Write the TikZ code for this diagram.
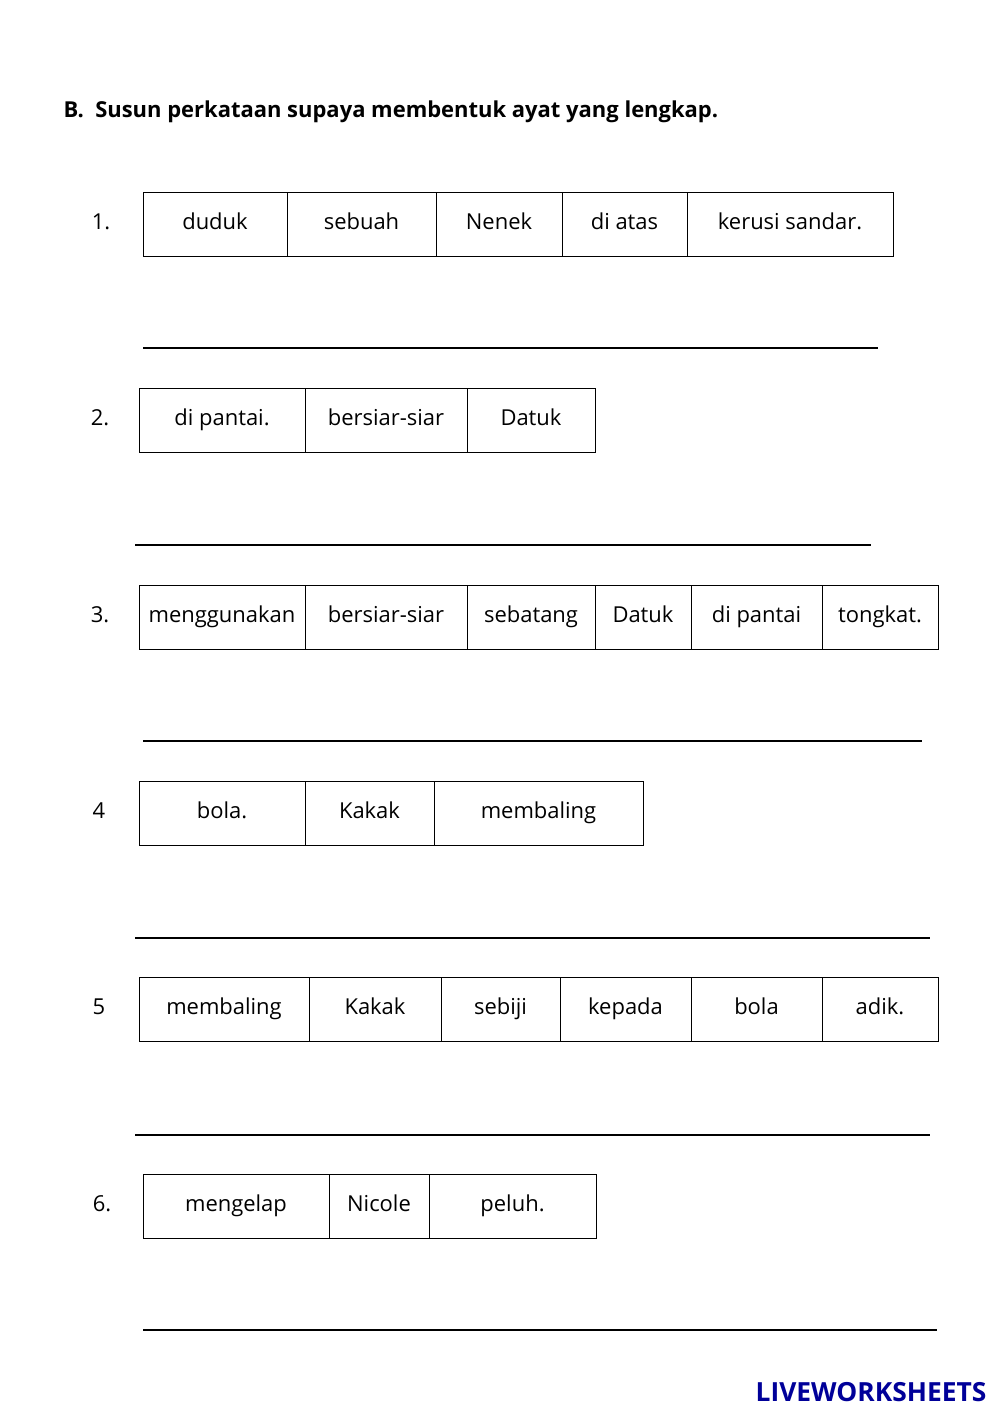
\documentclass[tikz,border=0pt]{standalone}
\usepackage{fontspec}
\setmainfont{Open Sans}
\usetikzlibrary{positioning}

\tikzset{
  wordbox/.style={draw, inner sep=0pt, minimum height=1.28cm, text height=1.55ex, text depth=0.45ex, font=\fontsize{12.5}{14}\selectfont},
  numlabel/.style={font=\fontsize{12.5}{14}\selectfont, text height=1.55ex, text depth=0.45ex},
  answerline/.style={line width=1.2pt}
}

\begin{document}
\begin{tikzpicture}

        \useasboundingbox (0,0) rectangle (20,-28.26);

        % Title
        \node[anchor=west, font=\bfseries\fontsize{12.5}{15}\selectfont] (title) at (1.15,-2.24) {B.\ \ Susun perkataan supaya membentuk ayat yang lengkap.};

        % ------------------ Soalan 1 ------------------
        \node[numlabel] (n1) at (2.02,-4.48) {1.};
        \node[wordbox, minimum width=2.88cm] (q1a) at (4.30,-4.48) {duduk};
        \node[wordbox, minimum width=2.98cm] (q1b) at (7.23,-4.48) {sebuah};
        \node[wordbox, minimum width=2.52cm] (q1c) at (9.98,-4.48) {Nenek};
        \node[wordbox, minimum width=2.50cm] (q1d) at (12.49,-4.48) {di atas};
        \node[wordbox, minimum width=4.12cm] (q1e) at (15.80,-4.48) {kerusi sandar.};
        \draw[answerline] (2.86,-6.96) -- (17.56,-6.96);

        % ------------------ Soalan 2 ------------------
        \node[numlabel] (n2) at (2.0,-8.41) {2.};
        \node[wordbox, minimum width=3.32cm] (q2a) at (4.44,-8.41) {di pantai.};
        \node[wordbox, minimum width=3.24cm] (q2b) at (7.72,-8.41) {bersiar-siar};
        \node[wordbox, minimum width=2.56cm] (q2c) at (10.62,-8.41) {Datuk};
        \draw[answerline] (2.70,-10.90) -- (17.42,-10.90);

        % ------------------ Soalan 3 ------------------
        \node[numlabel] (n3) at (2.0,-12.34) {3.};
        \node[wordbox, minimum width=3.32cm] (q3a) at (4.44,-12.34) {menggunakan};
        \node[wordbox, minimum width=3.24cm] (q3b) at (7.72,-12.34) {bersiar-siar};
        \node[wordbox, minimum width=2.56cm] (q3c) at (10.62,-12.34) {sebatang};
        \node[wordbox, minimum width=1.92cm] (q3d) at (12.86,-12.34) {Datuk};
        \node[wordbox, minimum width=2.62cm] (q3e) at (15.13,-12.34) {di pantai};
        \node[wordbox, minimum width=2.32cm] (q3f) at (17.60,-12.34) {tongkat.};
        \draw[answerline] (2.86,-14.82) -- (18.44,-14.82);

        % ------------------ Soalan 4 ------------------
        \node[numlabel] (n4) at (1.98,-16.26) {4};
        \node[wordbox, minimum width=3.32cm] (q4a) at (4.44,-16.26) {bola.};
        \node[wordbox, minimum width=2.58cm] (q4b) at (7.39,-16.26) {Kakak};
        \node[wordbox, minimum width=4.18cm] (q4c) at (10.77,-16.26) {membaling};
        \draw[answerline] (2.70,-18.76) -- (18.60,-18.76);

        % ------------------ Soalan 5 ------------------
        \node[numlabel] (n5) at (1.98,-20.19) {5};
        \node[wordbox, minimum width=3.40cm] (q5a) at (4.48,-20.19) {membaling};
        \node[wordbox, minimum width=2.64cm] (q5b) at (7.50,-20.19) {Kakak};
        \node[wordbox, minimum width=2.38cm] (q5c) at (10.01,-20.19) {sebiji};
        \node[wordbox, minimum width=2.62cm] (q5d) at (12.51,-20.19) {kepada};
        \node[wordbox, minimum width=2.62cm] (q5e) at (15.13,-20.19) {bola};
        \node[wordbox, minimum width=2.32cm] (q5f) at (17.60,-20.19) {adik.};
        \draw[answerline] (2.70,-22.70) -- (18.60,-22.70);

        % ------------------ Soalan 6 ------------------
        \node[numlabel] (n6) at (2.04,-24.12) {6.};
        \node[wordbox, minimum width=3.72cm] (q6a) at (4.72,-24.12) {mengelap};
        \node[wordbox, minimum width=2.00cm] (q6b) at (7.58,-24.12) {Nicole};
        \node[wordbox, minimum width=3.34cm] (q6c) at (10.25,-24.12) {peluh.};
        \draw[answerline] (2.86,-26.60) -- (18.74,-26.60);

        % Logo
        \node[anchor=east, text=blue!60!black, font=\bfseries\fontsize{15}{17}\selectfont] (logo) at (19.85,-27.84) {LIVEWORKSHEETS};

\end{tikzpicture}
\end{document}
